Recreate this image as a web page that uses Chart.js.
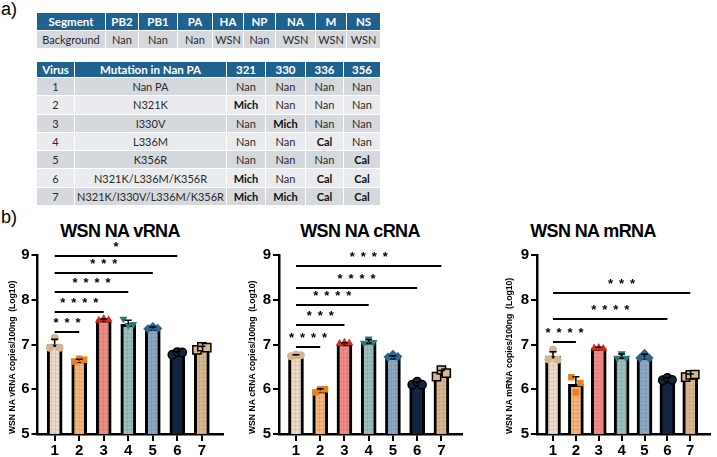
<!DOCTYPE html>
<html><head><meta charset="utf-8">
<script src="https://cdn.jsdelivr.net/npm/chart.js@4.4.0/dist/chart.umd.min.js"></script>
<style>
html,body{margin:0;padding:0;background:#fff;}
body{width:717px;height:457px;overflow:hidden;position:relative;font-family:Lato,'Liberation Sans',Arial,sans-serif;}
.lbl{position:absolute;font:18px/18px 'Liberation Sans',Arial,sans-serif;color:#000;}
.ttl{position:absolute;font:bold 18px/18px 'Liberation Sans',Arial,sans-serif;letter-spacing:-0.6px;text-align:center;width:180px;color:#000;}
table{position:absolute;border-collapse:collapse;table-layout:fixed;font-size:11px;color:#2a2a2a;}
td{padding:0;text-align:center;border:1px solid #fff;white-space:nowrap;overflow:hidden;}
tr.hd td{background:#1f6290;color:#fff;font-weight:bold;font-size:11.5px;}
tr.odd td{background:#d5d9de;}
tr.even td{background:#e9ebee;}
td.b{font-weight:bold;color:#111;}
.cw{position:absolute;}
</style>
</head><body>
<div class="lbl" style="left:1px;top:0px;">a)</div>
<div class="lbl" style="left:1px;top:208px;">b)</div>
<table id="t1" style="left:36px;top:12px;width:344px;"></table>
<table id="t2" style="left:36px;top:61px;width:344px;"></table>
<div class="ttl" style="left:30px;top:222px;">WSN NA vRNA</div>
<div class="ttl" style="left:270px;top:222px;">WSN NA cRNA</div>
<div class="ttl" style="left:503px;top:222px;">WSN NA mRNA</div>
<div class="cw" style="left:0px;top:230px;width:230px;height:227px;"><canvas id="c1" width="230" height="227"></canvas></div>
<div class="cw" style="left:240px;top:230px;width:230px;height:227px;"><canvas id="c2" width="230" height="227"></canvas></div>
<div class="cw" style="left:490px;top:230px;width:227px;height:227px;"><canvas id="c3" width="227" height="227"></canvas></div>
<script>
// ---------- table data ----------
const segments = ['PB2','PB1','PA','HA','NP','NA','M','NS'];
const background = ['Nan','Nan','Nan','WSN','Nan','WSN','WSN','WSN'];
const paSites = ['321','330','336','356'];
const virusIds = ['1','2','3','4','5','6','7'];
const mutations = ['Nan PA','N321K','I330V','L336M','K356R','N321K/L336M/K356R','N321K/I330V/L336M/K356R'];
const siteOrigin = [
  ['Nan','Nan','Nan','Nan'],
  ['Mich','Nan','Nan','Nan'],
  ['Nan','Mich','Nan','Nan'],
  ['Nan','Nan','Cal','Nan'],
  ['Nan','Nan','Nan','Cal'],
  ['Mich','Nan','Cal','Cal'],
  ['Mich','Mich','Cal','Cal']
];
// ---------- chart data ----------
const categories = ['1','2','3','4','5','6','7'];
const yTickValues = [5,6,7,8,9];

const vRNA_mean = [7.00, 6.64, 7.55, 7.45, 7.36, 6.80, 6.92];
const vRNA_sd   = [0.12, 0.03, 0.02, 0.09, 0.03, 0.04, 0.04];
const vRNA_reps = [[6.93,7.15,6.93],[6.62,6.68,6.66],[7.54,7.58,7.55],[7.57,7.43,7.45],[7.35,7.40,7.36],[6.77,6.83,6.82],[6.88,6.95,6.93]];
const vRNA_sig  = [[1,2,7.29,'***'],[1,3,7.73,'****'],[1,4,8.18,'****'],[1,5,8.59,'***'],[1,6,8.98,'*']];

const cRNA_mean = [6.75, 5.97, 7.02, 7.06, 6.72, 6.12, 6.35];
const cRNA_sd   = [0.02, 0.04, 0.02, 0.05, 0.03, 0.04, 0.07];
const cRNA_reps = [[6.74,6.77,6.76],[5.93,6.00,6.00],[7.02,7.05,7.03],[7.03,7.13,7.05],[6.72,6.78,6.73],[6.10,6.17,6.10],[6.28,6.43,6.36]];
const cRNA_sig  = [[1,2,6.94,'****'],[1,3,7.44,'***'],[1,4,7.88,'****'],[1,6,8.27,'****'],[1,7,8.76,'****']];

const mRNA_mean = [6.74, 6.11, 6.92, 6.73, 6.72, 6.22, 6.30];
const mRNA_sd   = [0.10, 0.17, 0.02, 0.06, 0.06, 0.03, 0.04];
const mRNA_reps = [[6.67,6.88,6.66],[6.27,5.93,6.14],[6.92,6.93,6.91],[6.70,6.80,6.70],[6.70,6.80,6.70],[6.20,6.25,6.21],[6.27,6.32,6.33]];
const mRNA_sig  = [[1,2,7.06,'****'],[1,6,7.57,'****'],[1,7,8.16,'***']];

// ---------- tables ----------
function buildTables(){
  const t1 = document.getElementById('t1');
  const w1 = [69,33,39,35,31,32,40,31,34];
  let h = '<colgroup>' + w1.map(w=>'<col style="width:'+w+'px">').join('') + '</colgroup>';
  h += '<tr class="hd" style="height:18px"><td>Segment</td>' + segments.map(s=>'<td>'+s+'</td>').join('') + '</tr>';
  h += '<tr class="odd" style="height:18px"><td>Background</td>' + background.map(s=>'<td>'+s+'</td>').join('') + '</tr>';
  t1.innerHTML = h;
  const t2 = document.getElementById('t2');
  const w2 = [38,152,39,40,38,37];
  h = '<colgroup>' + w2.map(w=>'<col style="width:'+w+'px">').join('') + '</colgroup>';
  h += '<tr class="hd" style="height:16px"><td>Virus</td><td>Mutation in Nan PA</td>' + paSites.map(s=>'<td>'+s+'</td>').join('') + '</tr>';
  virusIds.forEach((v,i)=>{
    h += '<tr class="'+(i%2===0?'odd':'even')+'" style="height:18.3px"><td>'+v+'</td><td>'+mutations[i]+'</td>' +
      siteOrigin[i].map(s=>'<td'+(s!=='Nan'?' class="b"':'')+'>'+s+'</td>').join('') + '</tr>';
  });
  t2.innerHTML = h;
}
buildTables();

// ---------- chart styles ----------
const FONT = "'Liberation Sans', Arial, sans-serif";
const barColors = ['#ecdcc9','#f6b57b','#ee8d88','#9dbfbb','#8eaac3','#14263f','#d6b993'];
const ptStyle = ['circle','rect','triangle','triangle','rectRot','circle','rect'];
const ptRot = [0,0,0,180,0,0,0];
const ptFill = ['#d3b58f','#e9801d','#d8281b','#2b7a78','#2b6590','#15253d','#d7b88f'];
const ptBorder = ['#d3b58f','#e9801d','#d8281b','#2b7a78','#2b6590','#000000','#000000'];
const ptRadius = [4,4.6,4.6,4.6,4.6,4.2,5.8];
const ptBW = [0,0,0,0,0,1.5,1.5];
const jitter = [-0.2, 0, 0.2];

function makePattern(color){
  const c = document.createElement('canvas'); c.width = 4; c.height = 4;
  const g = c.getContext('2d');
  g.fillStyle = color; g.fillRect(0,0,4,4);
  g.fillStyle = 'rgba(0,0,0,0.07)';
  g.fillRect(3,0,1,4); g.fillRect(0,3,4,1);
  return g.createPattern(c,'repeat');
}

function overlay(mean, sd, sig){
  return {id:'overlay', afterDatasetsDraw(chart){
    const {ctx, scales:{x, y}} = chart;
    ctx.save();
    ctx.strokeStyle = '#000'; ctx.lineWidth = 1.5;
    mean.forEach((m,i)=>{
      const px = x.getPixelForValue(i+1);
      const y0 = y.getPixelForValue(m), y1 = y.getPixelForValue(m + sd[i]);
      ctx.beginPath(); ctx.moveTo(px,y0); ctx.lineTo(px,y1);
      ctx.moveTo(px-3.5,y1); ctx.lineTo(px+3.5,y1); ctx.stroke();
    });
    ctx.lineWidth = 2;
    ctx.fillStyle = '#000';
    ctx.font = 'bold 13px ' + FONT;
    ctx.textAlign = 'center'; ctx.textBaseline = 'alphabetic';
    sig.forEach(([a,b,lv,st])=>{
      const xa = x.getPixelForValue(a), xb = x.getPixelForValue(b);
      const py = Math.round(y.getPixelForValue(lv));
      ctx.beginPath(); ctx.moveTo(xa,py); ctx.lineTo(xb,py); ctx.stroke();
      const n = st.length, c = (xa+xb)/2;
      for (let k=0;k<n;k++) ctx.fillText('*', c + (k-(n-1)/2)*11, py - 5);
    });
    ctx.restore();
  }};
}

function makeChart(id, mean, sd, reps, sig, yTitle, yWidth, padRight, titlePad){
  const xs = categories.map((c,i)=>i+1);
  const pts = [];
  reps.forEach((arr,i)=>arr.forEach((v,k)=>pts.push({x:i+1+jitter[k], y:v, c:i})));
  new Chart(document.getElementById(id), {
    type:'bar',
    data:{datasets:[
      {type:'bar', order:2, data: mean.map((v,i)=>({x:i+1,y:v})),
       backgroundColor: barColors.map(makePattern), borderColor:'#000', borderWidth:3,
       barThickness:15, borderSkipped:'start'},
      {type:'scatter', order:1, data: pts,
       pointStyle: c=>ptStyle[c.raw.c], rotation: c=>ptRot[c.raw.c],
       backgroundColor: c=>ptFill[c.raw.c], borderColor: c=>ptBorder[c.raw.c],
       borderWidth: c=>ptBW[c.raw.c], pointRadius: c=>ptRadius[c.raw.c]}
    ]},
    options:{
      responsive:false, animation:false, events:[],
      layout:{padding:{top:25, left:0, right:padRight, bottom:0}},
      plugins:{legend:{display:false}, tooltip:{enabled:false}},
      scales:{
        x:{type:'linear', min:0.3, max:7.85, offset:false,
           afterBuildTicks: s=>{ s.ticks = xs.map(v=>({value:v})); },
           ticks:{callback: v=>categories[Math.round(v)-1], autoSkip:false, maxRotation:0, color:'#000', padding:1,
                  font:{family:FONT, size:15, weight:'bold'}},
           grid:{display:true, offset:false, drawOnChartArea:false, drawTicks:true, tickLength:7, color:'#000', lineWidth:2},
           border:{display:true, color:'#000', width:2.5},
           afterFit: s=>{ s.height = 23; }},
        y:{min:5, max:9,
           afterBuildTicks: s=>{ s.ticks = yTickValues.map(v=>({value:v})); },
           ticks:{color:'#000', padding:2, font:{family:FONT, size:15, weight:'bold'}},
           grid:{display:true, drawOnChartArea:false, drawTicks:true, tickLength:6, color:'#000', lineWidth:2},
           border:{display:true, color:'#000', width:2.5},
           title:{display:true, text:yTitle, align:'start', color:'#000', padding:{top:titlePad, bottom:0},
                  font:{family:FONT, size:8.6, weight:'bold'}},
           afterFit: s=>{ s.width = yWidth; }}
      }
    },
    plugins:[overlay(mean, sd, sig)]
  });
}

makeChart('c1', vRNA_mean, vRNA_sd, vRNA_reps, vRNA_sig, 'WSN NA vRNA copies/100ng  (Log10)', 37.5, 7, 7);
makeChart('c2', cRNA_mean, cRNA_sd, cRNA_reps, cRNA_sig, 'WSN NA cRNA copies/100ng  (Log10)', 39, 8, 7.5);
makeChart('c3', mRNA_mean, mRNA_sd, mRNA_reps, mRNA_sig, 'WSN NA mRNA copies/100ng  (Log10)', 47, 1, 14);
</script>
</body></html>
